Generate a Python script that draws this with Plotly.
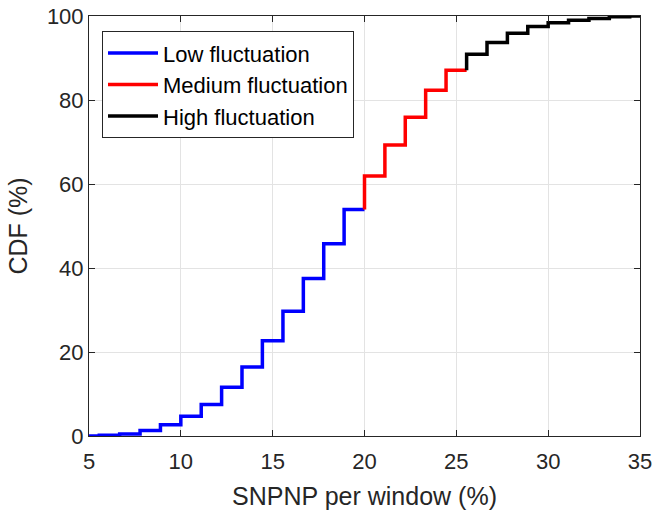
import plotly.graph_objects as go

# Step edges (SNPNP per window, %) and CDF value (%) after each step
edges = [5, 5.56, 6.67, 7.78, 8.89, 10.0, 11.11, 12.22, 13.33, 14.44, 15.56,
         16.67, 17.78, 18.89, 20.0, 21.11, 22.22, 23.33, 24.44, 25.56, 26.67,
         27.78, 28.89, 30.0, 31.11, 32.22, 33.33, 34.44, 35]
cdf = [0, 0.2, 0.5, 1.3, 2.7, 4.7, 7.5, 11.6, 16.4, 22.7, 29.7,
       37.5, 45.8, 53.9, 61.9, 69.3, 75.9, 82.3, 87.1, 90.9, 93.7,
       95.9, 97.5, 98.4, 99.0, 99.4, 99.8, 100, 100]

group_names = ["Low fluctuation", "Medium fluctuation", "High fluctuation"]
group_bounds = [(0, 14), (14, 19), (19, 28)]
group_colors = ["#0000ff", "#ff0000", "#000000"]

x_ticks = [5, 10, 15, 20, 25, 30, 35]
y_ticks = [0, 20, 40, 60, 80, 100]


def seg(a, b):
    xs = edges[a:b] + [edges[b]]
    ys = cdf[a:b] + [cdf[b - 1]]
    if a > 0:
        xs = [edges[a]] + xs
        ys = [cdf[a - 1]] + ys
    return xs, ys


fig = go.Figure()
for name, (a, b), col in zip(group_names, group_bounds, group_colors):
    xs, ys = seg(a, b)
    fig.add_trace(go.Scatter(x=xs, y=ys, mode="lines", name=name,
                             line=dict(color=col, width=3.5, shape="hv")))

axis_common = dict(
    showline=True, linecolor="#262626", linewidth=1, mirror="allticks",
    ticks="inside", ticklen=6, tickcolor="#262626", tickwidth=1,
    showgrid=True, gridcolor="#e3e3e3", gridwidth=1, zeroline=False,
    automargin=False,
    tickfont=dict(family="Liberation Sans, Arial", size=22, color="#262626"),
)

fig.update_xaxes(range=[5, 35], tickvals=x_ticks, ticklabelstandoff=6,
                 title=dict(text="SNPNP per window (%)", standoff=14,
                            font=dict(family="Liberation Sans, Arial", size=25, color="#262626")),
                 **axis_common)
fig.update_yaxes(range=[0, 100], tickvals=y_ticks,
                 title=dict(text="CDF (%)", standoff=12,
                            font=dict(family="Liberation Sans, Arial", size=25, color="#262626")),
                 **axis_common)

fig.update_layout(
    width=654, height=510,
    margin=dict(l=89, r=14, t=16, b=74),
    plot_bgcolor="white", paper_bgcolor="white",
    showlegend=True,
    legend=dict(x=0.0236, y=0.964, xanchor="left", yanchor="top",
                bgcolor="white", bordercolor="#262626", borderwidth=1,
                itemwidth=50,
                font=dict(family="Liberation Sans, Arial", size=22, color="#000000")),
)

fig.write_html("out.html")
